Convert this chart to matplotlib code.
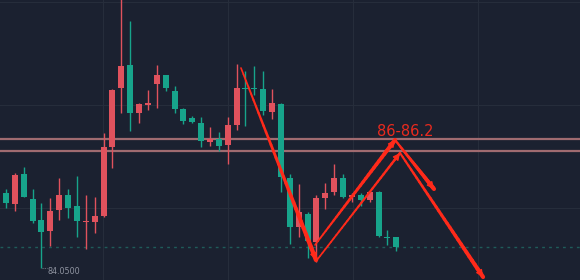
import numpy as np
import matplotlib
matplotlib.use('Agg')
import matplotlib.pyplot as plt
from matplotlib.collections import LineCollection

# candle data (red = close above open, green = close below open)
opens = [85.303, 85.12, 85.62, 85.208, 84.858, 84.68, 85.03, 85.27, 85.087, 84.82,
         84.83, 84.93, 86.08, 87.053, 87.437, 86.637, 86.775, 87.13, 87.27, 87.008,
         86.708, 86.553, 86.48, 86.158, 86.203, 86.103, 86.442, 87.063, 87.063, 87.042,
         86.663, 86.797, 85.563, 84.737, 84.953, 84.487, 85.23, 85.325, 85.553, 85.247,
         85.275, 85.192, 85.33, 84.575, 84.575]
highs = [85.375, 85.637, 85.747, 85.375, 85.147, 85.225, 85.558, 85.375, 85.592, 85.275,
         85.237, 86.303, 87.037, 88.608, 88.175, 86.803, 87.025, 87.442, 87.275, 87.092,
         86.72, 86.592, 86.575, 86.413, 86.32, 86.58, 87.463, 87.347, 87.425, 87.337,
         87.042, 86.803, 85.625, 85.458, 84.992, 85.275, 85.47, 85.792, 85.625, 85.313,
         85.313, 85.342, 85.342, 84.692, 84.58]
lows = [85.058, 85.013, 85.237, 84.803, 84.05, 84.43, 84.858, 84.887, 84.57, 84.38,
        84.637, 84.903, 85.73, 86.637, 86.347, 86.48, 86.692, 86.73, 87.008, 86.647,
        86.458, 86.47, 86.08, 86.097, 86.008, 85.797, 86.353, 86.43, 86.942, 86.608,
        86.547, 85.32, 84.458, 84.57, 84.22, 84.163, 85.037, 85.27, 85.225, 85.163,
        85.097, 85.158, 84.58, 84.442, 84.347]
closes = [85.137, 85.608, 85.242, 84.837, 84.663, 85.008, 85.28, 85.063, 84.837, 84.847,
          84.93, 86.07, 87.02, 87.425, 86.637, 86.797, 86.808, 87.27, 87.063, 86.703,
          86.513, 86.487, 86.17, 86.203, 86.097, 86.437, 87.053, 87.042, 87.037, 86.68,
          86.808, 85.57, 84.737, 84.992, 84.513, 85.225, 85.313, 85.563, 85.247, 85.275,
          85.192, 85.33, 84.597, 84.558, 84.413]

zone_levels = [86.2, 86.0]
zone_label = '86-86.2'
low_label = '84.0500'

# hand drawn arrows: (x0, y0, x1, y1, start width, end width)
arrows = [
    (26.49, 87.392, 34.95, 84.192, 1.2, 3.2),
    (34.84, 84.442, 43.86, 86.192, 1.2, 3.0),
    (35.06, 84.192, 44.42, 85.975, 1.2, 1.8),
    (43.86, 86.192, 48.25, 85.375, 1.5, 3.0),
    (44.42, 85.975, 53.78, 83.908, 1.5, 3.0),
]

bg = '#1b2130'
up_col = '#e0525d'
dn_col = '#17a48b'
arrow_col = '#ff2a1a'

fig = plt.figure(figsize=(5.8, 2.8), dpi=100, facecolor=bg)
ax = fig.add_axes([0, 0, 1, 1])
ax.set_facecolor(bg)

xs = np.arange(len(opens))
o = np.array(opens)
c = np.array(closes)
cols = np.where(c >= o, up_col, dn_col)
bottoms = np.minimum(o, c)
heights = np.maximum(np.abs(c - o), 0.02)

ax.vlines(xs, lows, highs, colors=cols, lw=1, zorder=2)
ax.bar(xs, heights, bottom=bottoms, width=0.68, color=cols, zorder=3)

# zone lines
for lv in zone_levels:
    ax.axhline(lv, color='#a06b70', lw=1.6, zorder=1.5)

# last price dotted line
ax.axhline(closes[-1], color='#1f5c5a', lw=1, ls=(0, (2, 3)), zorder=1)

# arrows with tapering width
for x0, y0, x1, y1, w0, w1 in arrows:
    n = 30
    px = np.linspace(x0, x1, n + 1)
    py = np.linspace(y0, y1, n + 1)
    segs = np.stack([np.column_stack([px[:-1], py[:-1]]),
                     np.column_stack([px[1:], py[1:]])], axis=1)
    lc = LineCollection(segs, colors=arrow_col, linewidths=np.linspace(w0, w1, n),
                        capstyle='round', zorder=5)
    ax.add_collection(lc)
    ax.annotate('', xy=(x1, y1), xytext=(x1 - (x1 - x0) * 0.08, y1 - (y1 - y0) * 0.08),
                arrowprops=dict(arrowstyle='-|>', color=arrow_col, lw=1,
                                mutation_scale=10, shrinkA=0, shrinkB=0), zorder=6)

ax.text(41.8, 86.33, zone_label, color='#ea2a1e', fontsize=10.5, ha='left', va='center', zorder=6)

# low marker
low_i = int(np.argmin(lows))
ax.plot([low_i + 0.1, low_i + 0.6], [lows[low_i], lows[low_i]], color='#6f7482', lw=0.8, ls=(0, (1, 1)))
ax.text(low_i + 0.7, lows[low_i] - 0.05, low_label, color='#8e93a0', fontsize=5.8, ha='left', va='center')

ax.set_xlim(-0.676, 64.71)
ax.set_ylim(83.858, 88.525)
ax.set_xticks([10.94, 25.03, 39.12, 53.21])
ax.set_yticks([85.058, 86.775, 88.492])
ax.grid(True, color='#262d3b', lw=0.8)
ax.set_axisbelow(True)
ax.tick_params(length=0, labelbottom=False, labelleft=False)
for s in ax.spines.values():
    s.set_visible(False)

fig.savefig('out.png', dpi=100, facecolor=bg)
